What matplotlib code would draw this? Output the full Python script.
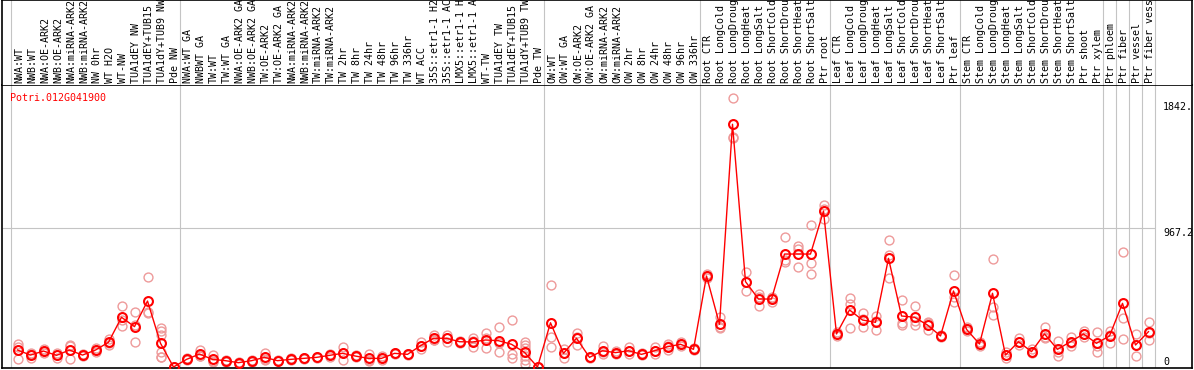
import numpy as np
import matplotlib
import matplotlib.pyplot as plt

MPL_BACKEND = "Agg"

gene = "Potri.012G041900"

labels = [
    "NWA:WT", "NWB:WT", "NWA:OE-ARK2", "NWB:OE-ARK2", "NWA:miRNA-ARK2",
    "NWB:miRNA-ARK2", "NW 0hr", "WT H2O", "WT-NW", "TUA1dEY NW",
    "TUA1dEY+TUB15 NW", "TUA1dY+TUB9 NW", "Pde NW",
    "NWA:WT GA", "NWBWT GA", "TW:WT", "TW:WT GA", "NWA:OE-ARK2 GA",
    "NWB:OE-ARK2 GA", "TW:OE-ARK2", "TW:OE-ARK2 GA", "NWA:miRNA-ARK2",
    "NWB:miRNA-ARK2", "TW:miRNA-ARK2", "TW:miRNA-ARK2", "TW 2hr", "TW 8hr",
    "TW 24hr", "TW 48hr", "TW 96hr", "TW 336hr", "WT ACC",
    "35S::etr1-1 H2O", "35S::etr1-1 ACC", "LMX5::etr1-1 H2O",
    "LMX5::etr1-1 ACC", "WT-TW", "TUA1dEY TW", "TUA1dEY+TUB15 TW",
    "TUA1dY+TUB9 TW", "Pde TW",
    "OW:WT", "OW:WT GA", "OW:OE-ARK2", "OW:OE-ARK2 GA", "OW:miRNA-ARK2",
    "OW:miRNA-ARK2", "OW 2hr", "OW 8hr", "OW 24hr", "OW 48hr", "OW 96hr",
    "OW 336hr",
    "Root CTR", "Root LongCold", "Root LongDrought", "Root LongHeat",
    "Root LongSalt", "Root ShortCold", "Root ShortDrought", "Root ShortHeat",
    "Root ShortSalt", "Ptr root",
    "Leaf CTR", "Leaf LongCold", "Leaf LongDrought", "Leaf LongHeat",
    "Leaf LongSalt", "Leaf ShortCold", "Leaf ShortDrought", "Leaf ShortHeat",
    "Leaf ShortSalt", "Ptr leaf",
    "Stem CTR", "Stem LongCold", "Stem LongDrought", "Stem LongHeat",
    "Stem LongSalt", "Stem ShortCold", "Stem ShortDrought", "Stem ShortHeat",
    "Stem ShortSalt", "Ptr shoot", "Ptr xylem",
    "Ptr phloem", "Ptr fiber", "Ptr vessel", "Ptr fiber vessel",
]

means = [
    118, 83, 111, 81, 118, 83, 118, 172, 346, 281, 459, 165, 0,
    53, 90, 53, 44, 30, 44, 67, 44, 53, 60, 67, 81, 95, 76, 60, 60, 95, 88,
    148, 200, 200, 176, 174, 188, 183, 158, 102, 0,
    308, 95, 200, 67, 113, 100, 113, 88, 113, 141, 158, 123,
    633, 297, 1689, 594, 473, 473, 786, 786, 786, 1085,
    230, 397, 327, 311, 756, 355, 346, 292, 216, 529,
    262, 160, 513, 83, 176, 107, 230, 123, 176, 230, 165,
    216, 443, 153, 246,
]

replicates = [
    [158, 140, 55], [95, 90, 65], [125, 113, 95], [95, 83, 65],
    [156, 145, 53], [88, 83, 78], [130, 118, 106], [195, 165, 155],
    [424, 326, 288], [380, 291, 172], [624, 380, 373],
    [269, 250, 220, 107, 72, 72], [0, 0, 0],
    [60, 53, 46], [118, 76, 76], [83, 44, 32], [50, 44, 38], [36, 30, 24],
    [50, 44, 38], [95, 57, 49], [48, 44, 40], [60, 53, 46], [66, 60, 54],
    [72, 67, 62], [90, 86, 67], [137, 100, 49], [83, 76, 69], [88, 50, 42],
    [74, 60, 46], [100, 95, 90], [92, 88, 84], [176, 143, 125],
    [223, 188, 189], [223, 200, 177], [183, 176, 169], [200, 181, 141],
    [234, 200, 130], [276, 170, 102], [327, 88, 60],
    [176, 153, 130, 107, 76, 49, 23], [0, 0, 0],
    [571, 211, 142], [123, 97, 65], [239, 211, 150], [72, 67, 62],
    [148, 103, 88], [113, 100, 87], [141, 108, 90], [94, 88, 82],
    [141, 108, 90], [158, 147, 118], [172, 158, 144], [130, 123, 116],
    [650, 633, 616], [346, 276, 269], [1870, 1600, 1595], [659, 594, 529],
    [508, 484, 427], [489, 480, 450], [907, 745, 729], [840, 820, 698],
    [988, 722, 645], [1127, 1100, 1027],
    [245, 230, 215], [478, 440, 273], [373, 332, 276], [355, 320, 257],
    [884, 779, 617], [466, 308, 292], [424, 320, 295], [315, 304, 257],
    [222, 216, 210], [640, 489, 450],
    [276, 262, 250], [176, 160, 146], [751, 420, 360], [107, 83, 60],
    [204, 176, 150], [125, 107, 95], [281, 207, 200], [183, 107, 79],
    [211, 169, 148], [253, 230, 211], [241, 148, 107],
    [253, 226, 169], [798, 339, 193], [230, 153, 76], [311, 240, 188],
]

# first column index of each block, last entry closes the table
group_edges = [0, 13, 41, 53, 63, 73, 84, 85, 86, 87, 88]

ytick_values = [0, 967.2, 1842.3]
ytick_text = ["0", "967.2", "1842."]

W, H = 1194, 370
COL_W = 13.0
COL0 = 11.0          # pixel of left edge of first column
BOX_L, BOX_R = 2, 1192
HEAD_B = 85          # header / plot separator, px from top
PLOT_B = 368         # bottom border, px from top
Y_PER_PX = 967.2 / 139.0
ZERO_PX = 367

RED = "#ff0000"
REP = "#ee9a9a"
GRID = "#c4c4c4"
FONT = "DejaVu Sans Mono"
FS = 7.2


def px_to_col(px):
    return (px - COL0 - COL_W / 2) / COL_W


def main():
    matplotlib.use(MPL_BACKEND)
    fig = plt.figure(figsize=(W / 100, H / 100), dpi=100)

    xlim = (px_to_col(BOX_L), px_to_col(BOX_R))
    ax = fig.add_axes([BOX_L / W, (H - PLOT_B) / H, (BOX_R - BOX_L) / W,
                       (PLOT_B - HEAD_B) / H])
    axh = fig.add_axes([BOX_L / W, (H - HEAD_B) / H, (BOX_R - BOX_L) / W,
                        HEAD_B / H])

    ax.set_xlim(*xlim)
    ax.set_ylim((ZERO_PX - PLOT_B) * Y_PER_PX, (ZERO_PX - HEAD_B) * Y_PER_PX)
    axh.set_xlim(*xlim)
    axh.set_ylim(HEAD_B, 0)

    for a in (ax, axh):
        a.set_xticks([])
        a.set_yticks([])
        for s in a.spines.values():
            s.set_color("black")
            s.set_linewidth(1.2)
        for e in group_edges:
            a.axvline(e - 0.5, color=GRID, lw=0.8, zorder=1)
    axh.spines["bottom"].set_visible(False)

    ax.hlines(967.2, xlim[0], group_edges[-1] - 0.5, color=GRID, lw=0.8,
              zorder=1)

    x = np.arange(len(means))
    rx = [i for i, r in enumerate(replicates) for _ in r]
    ry = [v for r in replicates for v in r]
    ax.plot(rx, ry, "o", ms=6.4, mfc="none", mec=REP, mew=1.0, zorder=2,
            clip_on=True)
    ax.plot(x, means, "-", color=RED, lw=1.0, zorder=3)
    ax.plot(x, means, "o", ms=6.4, mfc="none", mec=RED, mew=1.5, zorder=4)

    for i, lab in enumerate(labels):
        axh.text(i + 4.5 / COL_W, HEAD_B - 2, lab, rotation=90,
                 rotation_mode="anchor", ha="left", va="baseline",
                 family=FONT, fontsize=FS, color="black")

    tx = (1163 - BOX_L) / (BOX_R - BOX_L)
    for v, t in zip(ytick_values, ytick_text):
        ax.text(tx, v, t, transform=ax.get_yaxis_transform(), family=FONT,
                fontsize=FS, ha="left", va="bottom" if v == 0 else "top")

    ax.text((10 - BOX_L) / (BOX_R - BOX_L), 1 - (93 - HEAD_B) / (PLOT_B - HEAD_B),
            gene, transform=ax.transAxes, family=FONT, fontsize=FS,
            color=RED, ha="left", va="top")

    fig.savefig("out.png", dpi=100)


if __name__ == "__main__":
    main()
